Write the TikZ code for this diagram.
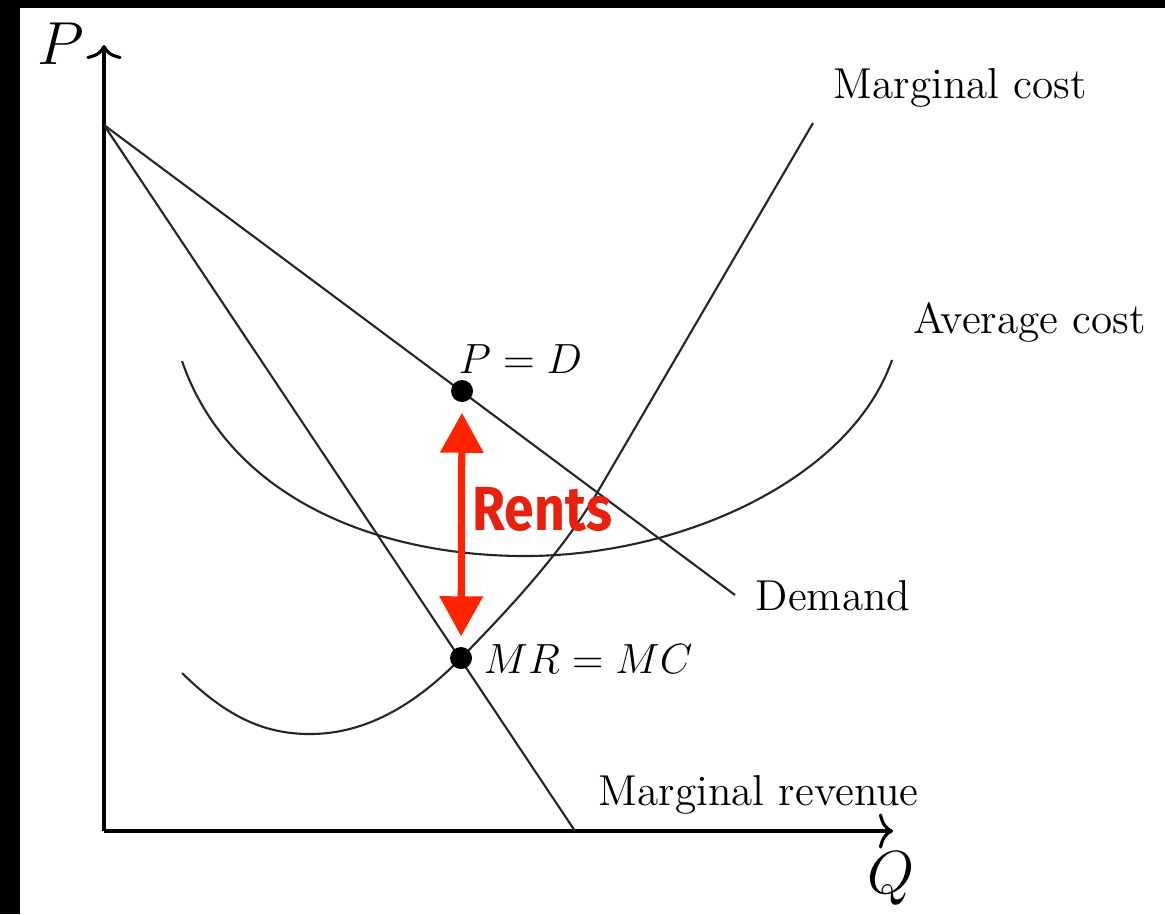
\documentclass[tikz,border=0pt]{standalone}
\usepackage{fontspec}
\newfontfamily\rentsfont{Fira Sans}[FakeStretch=0.86]
\usetikzlibrary{arrows.meta,positioning}
\definecolor{rentsred}{RGB}{255,36,0}
\definecolor{rentstext}{RGB}{232,32,14}

\begin{document}
\begin{tikzpicture}[
        x=0.01cm, y=-0.01cm,
        curve/.style={line width=0.6pt, black!85},
        axis/.style={line width=0.9pt, -{To[length=4pt,width=10pt]}},
        lbl/.style={font=\fontsize{12.3}{15}\selectfont, inner sep=0pt, anchor=base west},
        axlbl/.style={font=\fontsize{18}{20}\selectfont, inner sep=0pt},
        dot/.style={circle, fill=black, minimum size=0.22cm, inner sep=0pt},
        rents/.style={rentsred, line width=2pt,
            {Triangle[width=0.42cm,length=0.4cm]}-{Triangle[width=0.42cm,length=0.4cm]},
            shorten <=0.1cm, shorten >=0.1cm}
    ]
        \useasboundingbox (0,0) rectangle (1165,914);
        \fill[black] (0,0) rectangle (1165,914);
        \fill[white] (20,8) rectangle (1165,914);

        \coordinate (origin) at (104,831);
        \coordinate (ytop) at (104,45);
        \coordinate (xend) at (893,831);
        \coordinate (pmax) at (104,125);
        \coordinate (dend) at (735,595);
        \coordinate (mrend) at (575,831);
        \coordinate (pdpt) at (462,391);
        \coordinate (eqpt) at (461,658);

        \draw[axis] (origin) -- (ytop);
        \draw[axis] (origin) -- (xend);
        \node[axlbl] (plbl) at (61,44) {$P$};
        \node[axlbl] (qlbl) at (891,879) {$Q$};

        \draw[curve] (pmax) -- (dend);
        \draw[curve] (pmax) -- (mrend);
        \draw[curve] (182,361) .. controls (230,500) and (380,556) .. (525,556)
            .. controls (680,556) and (850,480) .. (892,360);
        \draw[curve] (182,673) .. controls (225,715) and (262,734) .. (310,734)
            .. controls (370,734) and (420,700) .. (eqpt)
            .. controls (505,613) and (560,555) .. (597,493) -- (813,123);

        \node[lbl] (mclbl) at (833,98) {Marginal cost};
        \node[lbl] (aclbl) at (913,333) {Average cost};
        \node[lbl] (dlbl) at (755,610) {Demand};
        \node[lbl] (mrlbl) at (598,805) {Marginal revenue};

        \node[dot] (pd) at (pdpt) {};
        \node[dot] (mrmc) at (eqpt) {};
        \node[lbl] (pdlbl) at (458,373) {$P=D$};
        \node[lbl] (mrmclbl) at (483,673) {$MR=MC$};

        \draw[rents] (pd) -- (mrmc);
        \node[font=\rentsfont\bfseries\fontsize{17.7}{20}\selectfont, text=rentstext, inner sep=0pt, anchor=base west] (rentslbl) at (472,530) {Rents};
    \end{tikzpicture}
\end{document}
